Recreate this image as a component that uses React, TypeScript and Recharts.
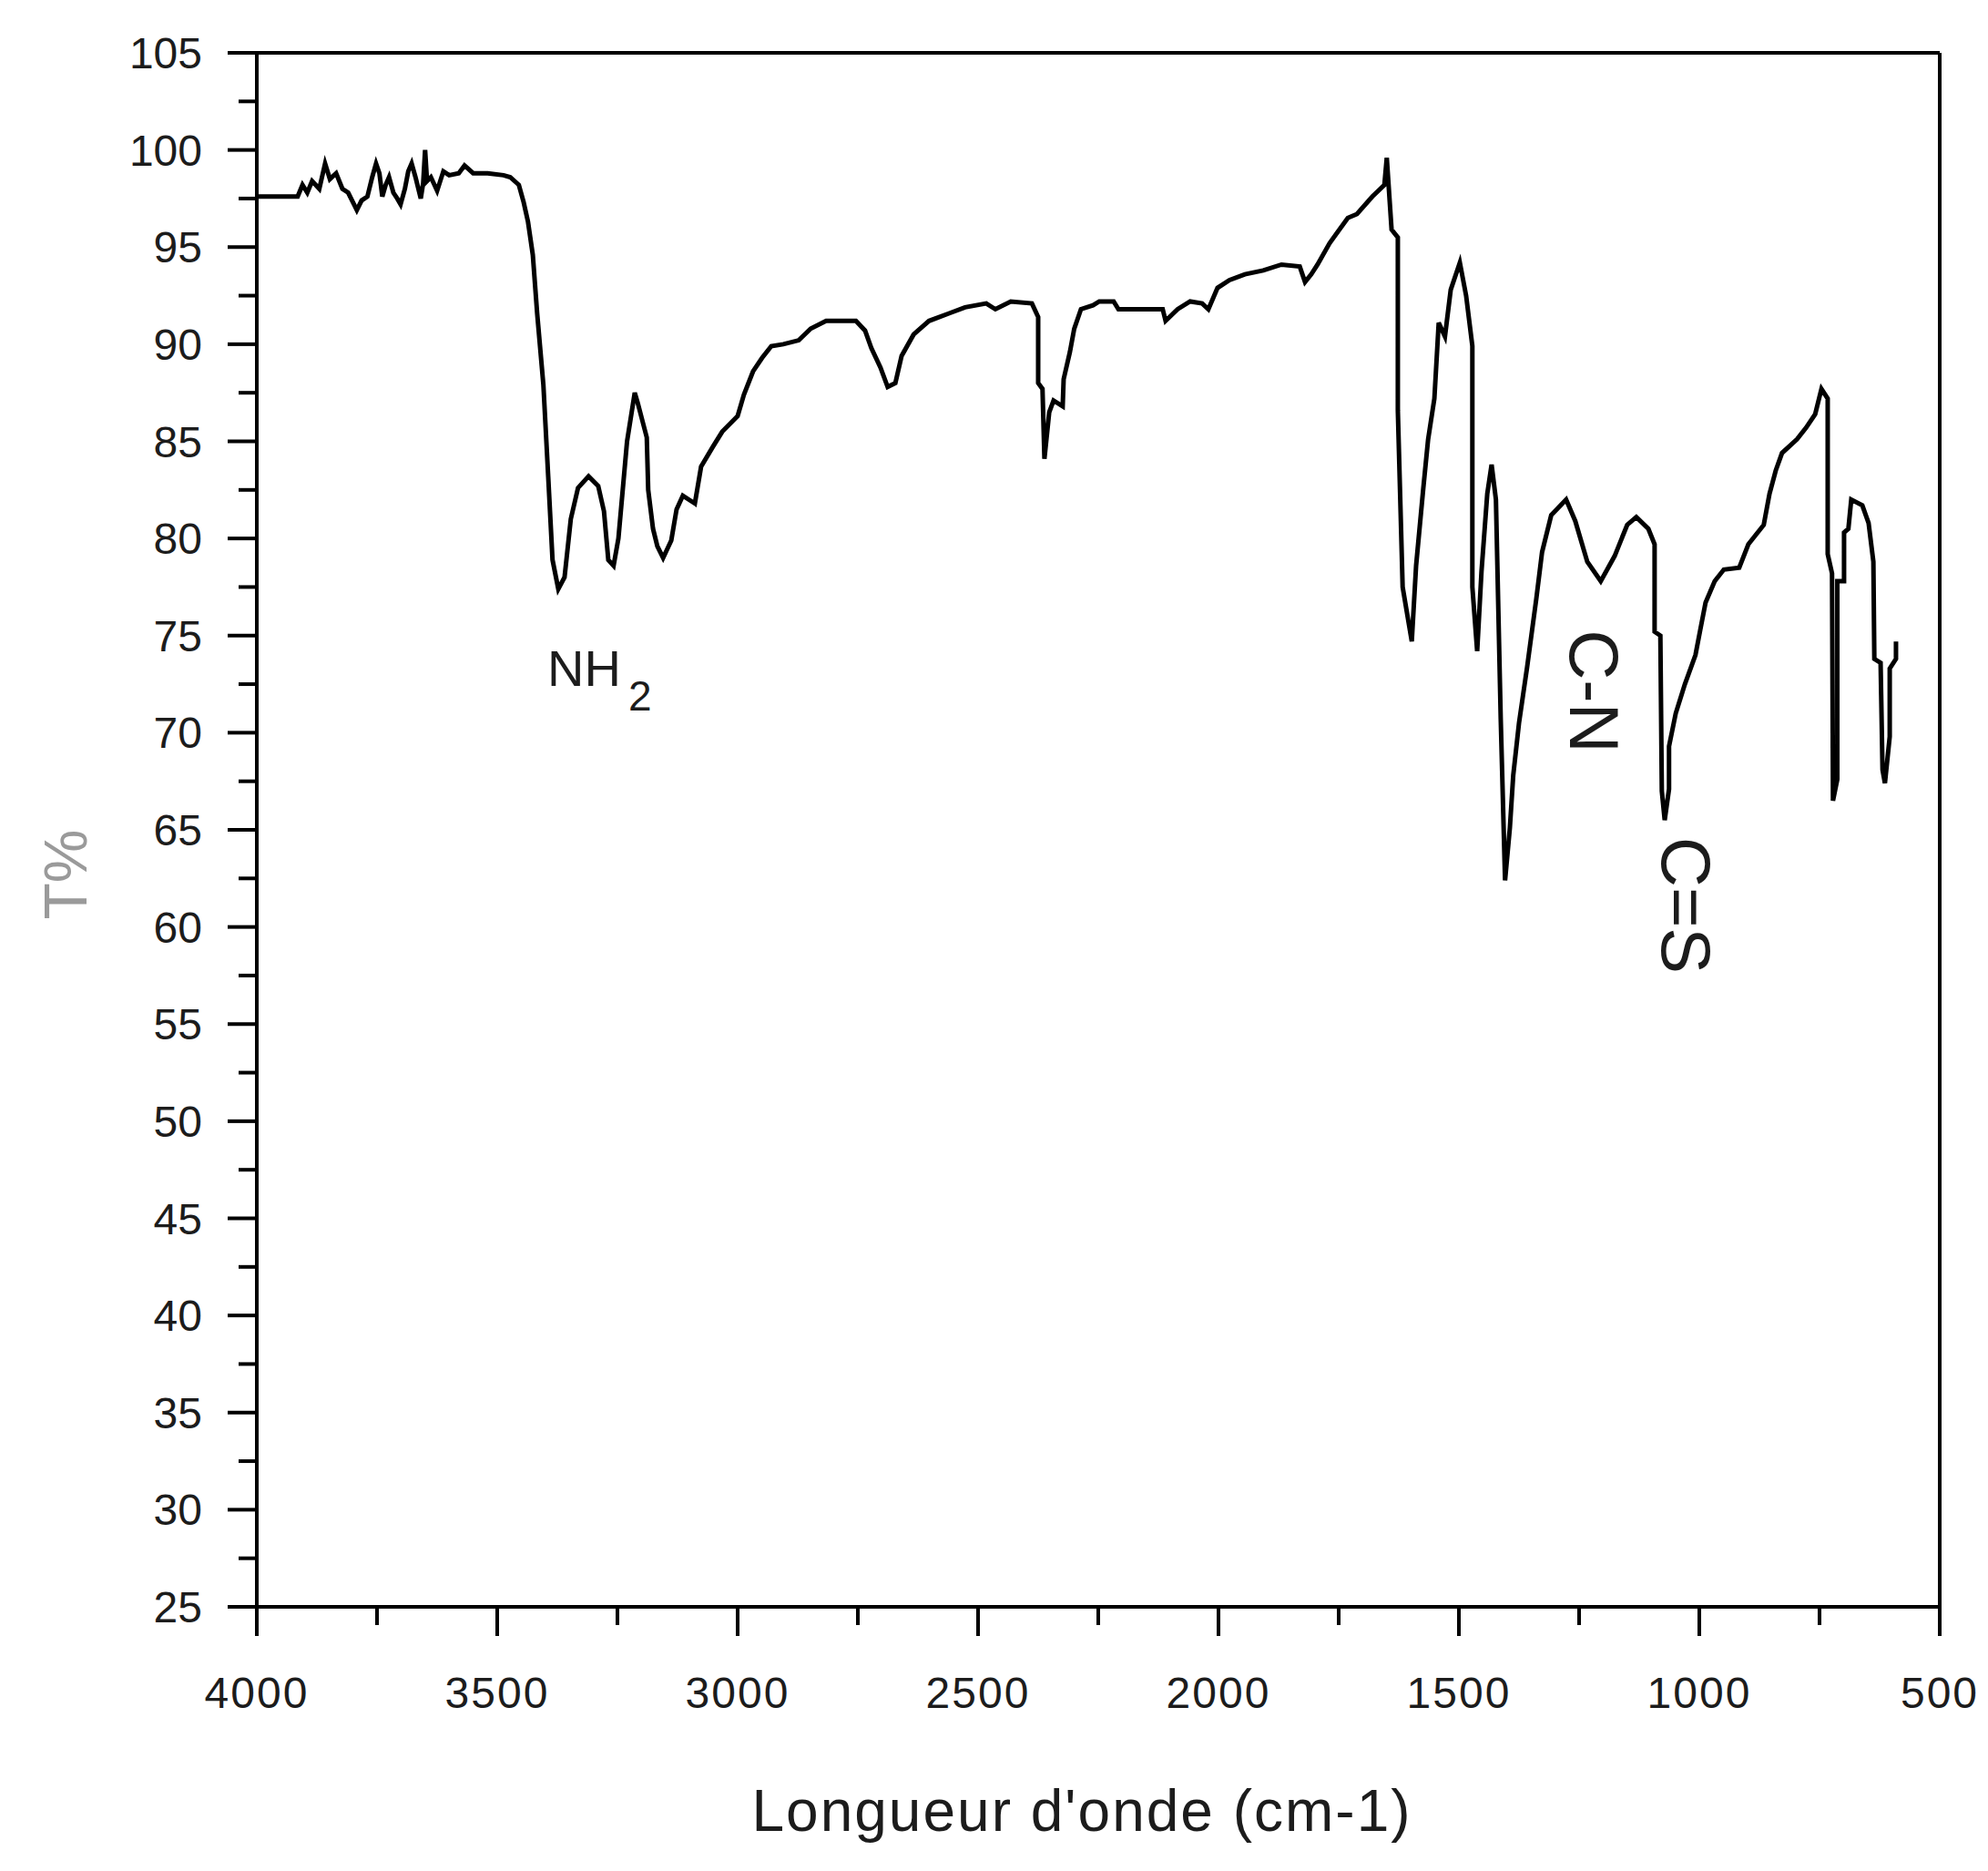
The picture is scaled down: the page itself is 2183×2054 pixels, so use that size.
import React from 'react';
import { LineChart, Line, XAxis, YAxis } from 'recharts';

// IR spectrum
const wavenumbers = [
  4000, 3960, 3915, 3905, 3895, 3885, 3870, 3858, 3848, 3835, 3822, 3810, 3800, 3792, 3782, 3770,
  3760, 3752, 3745, 3739, 3732, 3725, 3716, 3708, 3701, 3692, 3685, 3678, 3670, 3659, 3654, 3650,
  3646, 3638, 3625, 3612, 3600, 3580, 3568, 3550, 3520, 3487, 3473, 3455, 3445, 3436, 3426, 3417,
  3404, 3394, 3385, 3373, 3360, 3347, 3332, 3310, 3290, 3278, 3269, 3258, 3248, 3230, 3214, 3208,
  3189, 3186, 3176, 3167, 3155, 3138, 3127, 3114, 3089, 3076, 3052, 3032, 3000, 2987, 2968, 2949,
  2930, 2905, 2873, 2848, 2816, 2754, 2735, 2722, 2703, 2688, 2672, 2659, 2634, 2602, 2559, 2527,
  2483, 2464, 2432, 2388, 2375, 2375, 2366, 2362, 2352, 2343, 2324, 2322, 2309, 2300, 2286, 2261,
  2248, 2218, 2208, 2116, 2110, 2085, 2059, 2034, 2021, 2002, 1977, 1945, 1907, 1869, 1831, 1820,
  1807, 1794, 1769, 1731, 1712, 1680, 1655, 1650, 1640, 1627, 1627, 1617, 1598, 1589, 1574, 1564,
  1551, 1542, 1529, 1517, 1498, 1485, 1472, 1472, 1462, 1453, 1441, 1432, 1423, 1413, 1404, 1394,
  1387, 1375, 1358, 1339, 1327, 1308, 1277, 1258, 1233, 1205, 1176, 1150, 1131, 1106, 1093, 1093,
  1081, 1078, 1072, 1063, 1063, 1049, 1030, 1008, 998, 987, 968, 949, 917, 898, 866, 854,
  841, 828, 797, 778, 759, 746, 733, 733, 724, 722, 713, 713, 699, 699, 690, 684,
  661, 648, 638, 636, 623, 619, 614, 604, 604, 591, 591,
];

const transmittance = [
  97.6, 97.6, 97.6, 98.2, 97.8, 98.4, 98.0, 99.3, 98.5, 98.8, 98.0, 97.8, 97.3, 96.9, 97.4, 97.6,
  98.6, 99.3, 98.8, 97.6, 98.2, 98.6, 97.8, 97.5, 97.2, 98.0, 98.9, 99.3, 98.6, 97.5, 98.3, 100.0,
  98.4, 98.6, 97.9, 98.9, 98.7, 98.8, 99.2, 98.8, 98.8, 98.7, 98.6, 98.2, 97.3, 96.3, 94.6, 91.6,
  87.9, 83.2, 78.9, 77.4, 78.0, 81.0, 82.6, 83.2, 82.7, 81.4, 78.9, 78.6, 80.0, 85.0, 87.5, 87.0,
  85.2, 82.5, 80.5, 79.6, 79.0, 79.9, 81.5, 82.2, 81.8, 83.7, 84.7, 85.5, 86.3, 87.4, 88.6, 89.3,
  89.9, 90.0, 90.2, 90.8, 91.2, 91.2, 90.7, 89.8, 88.8, 87.8, 88.0, 89.4, 90.5, 91.2, 91.6, 91.9,
  92.1, 91.8, 92.2, 92.1, 91.4, 88.0, 87.7, 84.1, 86.5, 87.1, 86.8, 88.2, 89.6, 90.8, 91.8, 92.0,
  92.2, 92.2, 91.8, 91.8, 91.2, 91.8, 92.2, 92.1, 91.8, 92.9, 93.3, 93.6, 93.8, 94.1, 94.0, 93.2,
  93.6, 94.1, 95.2, 96.5, 96.7, 97.6, 98.2, 99.6, 95.9, 95.5, 86.6, 77.5, 74.7, 78.6, 82.6, 85.1,
  87.2, 91.1, 90.4, 92.8, 94.2, 92.5, 89.9, 77.5, 74.2, 78.3, 82.3, 83.8, 82.0, 70.7, 62.4, 65.1,
  67.8, 70.5, 73.4, 76.9, 79.3, 81.2, 82.0, 80.9, 78.8, 77.8, 79.1, 80.7, 81.1, 80.5, 79.7, 75.2,
  75.0, 67.0, 65.5, 67.1, 69.3, 71.0, 72.5, 74.0, 75.3, 76.7, 77.8, 78.4, 78.5, 79.7, 80.7, 82.3,
  83.5, 84.4, 85.1, 85.7, 86.4, 87.7, 87.2, 79.2, 78.2, 66.5, 67.6, 77.8, 77.8, 80.3, 80.5, 82.0,
  81.7, 80.8, 78.8, 73.8, 73.6, 68.1, 67.4, 69.8, 73.3, 73.8, 74.7,
];

const xTicks = [4000, 3750, 3500, 3250, 3000, 2750, 2500, 2250, 2000, 1750, 1500, 1250, 1000, 750, 500];
const yTicks = [
  25, 27.5, 30, 32.5, 35, 37.5, 40, 42.5, 45, 47.5, 50, 52.5, 55, 57.5, 60, 62.5, 65,
  67.5, 70, 72.5, 75, 77.5, 80, 82.5, 85, 87.5, 90, 92.5, 95, 97.5, 100, 102.5, 105,
];

const data = wavenumbers.map((wn, i) => ({ wn, t: transmittance[i] }));

const FONT = '"Liberation Sans", Arial, sans-serif';
const INK = '#1c1c1c';

const XTick = (props: any) => {
  const { x, y, payload } = props;
  const major = payload.value % 500 === 0;
  return (
    <g>
      <line x1={x} y1={y} x2={x} y2={y + (major ? 32 : 20)} stroke="#000" strokeWidth={4} />
      {major && (
        <text x={x} y={y + 111} textAnchor="middle" fontSize={48} fontFamily={FONT} fill={INK} letterSpacing={2}>
          {payload.value}
        </text>
      )}
    </g>
  );
};

const YTick = (props: any) => {
  const { x, y, payload } = props;
  const major = payload.value % 5 === 0;
  return (
    <g>
      <line x1={x - (major ? 32 : 20)} y1={y} x2={x} y2={y} stroke="#000" strokeWidth={4} />
      {major && (
        <text x={x - 60} y={y + 17} textAnchor="end" fontSize={48} fontFamily={FONT} fill={INK}>
          {payload.value}
        </text>
      )}
    </g>
  );
};

const txt = (extra: React.CSSProperties): React.CSSProperties => ({
  position: 'absolute',
  fontFamily: FONT,
  lineHeight: 1,
  whiteSpace: 'nowrap',
  color: INK,
  ...extra,
});

export default function App() {
  const frame = { stroke: '#000', strokeWidth: 4 };
  return (
    <div style={{ position: 'absolute', left: 0, top: 0, width: 2183, height: 2054, background: '#fff' }}>
      <LineChart width={2183} height={2054} data={data} margin={{ top: 57, right: 52, bottom: 289, left: 281 }}>
        <XAxis
          dataKey="wn"
          type="number"
          domain={[500, 4000]}
          reversed
          ticks={xTicks}
          interval={0}
          height={1}
          tickSize={0}
          tickMargin={0}
          tickLine={false}
          axisLine={frame}
          tick={<XTick />}
        />
        <XAxis xAxisId="top" orientation="top" type="number" dataKey="wn" domain={[500, 4000]} height={1} tick={false} tickLine={false} axisLine={frame} />
        <YAxis
          type="number"
          domain={[25, 105]}
          ticks={yTicks}
          interval={0}
          width={1}
          tickSize={0}
          tickMargin={0}
          tickLine={false}
          axisLine={frame}
          tick={<YTick />}
        />
        <YAxis yAxisId="right" orientation="right" type="number" domain={[25, 105]} width={1} tick={false} tickLine={false} axisLine={frame} />
        <Line dataKey="t" type="linear" stroke="#000" strokeWidth={5} dot={false} isAnimationActive={false} />
      </LineChart>

      <div style={txt({ left: 1188, top: 1988, fontSize: 64, letterSpacing: 2, transform: 'translate(-50%, -50%)' })}>
        Longueur d'onde (cm-1)
      </div>
      <div style={txt({ left: 72, top: 960, fontSize: 66, color: '#9a9a9a', transform: 'translate(-50%, -50%) rotate(-90deg)' })}>
        T%
      </div>
      <div style={txt({ left: 601, top: 706, fontSize: 56 })}>NH</div>
      <div style={txt({ left: 690, top: 741, fontSize: 46 })}>2</div>
      <div style={txt({ left: 1750, top: 759, fontSize: 76, transform: 'translate(-50%, -50%) rotate(90deg)' })}>C-N</div>
      <div style={txt({ left: 1851, top: 994, fontSize: 76, transform: 'translate(-50%, -50%) rotate(90deg)' })}>C=S</div>
    </div>
  );
}
